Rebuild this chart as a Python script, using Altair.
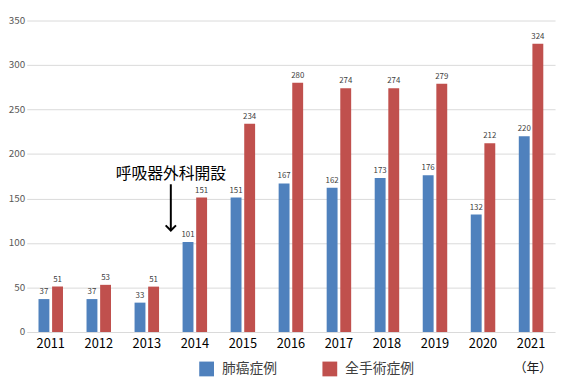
import altair as alt
import pandas as pd

years = ["2011", "2012", "2013", "2014", "2015", "2016", "2017", "2018", "2019", "2020", "2021"]
lung = [37, 37, 33, 101, 151, 167, 162, 173, 176, 132, 220]
total = [51, 53, 51, 151, 234, 280, 274, 274, 279, 212, 324]
series = ["肺癌症例", "全手術症例"]
colors = ["#4f81bd", "#c0504d"]
y_ticks = [0, 50, 100, 150, 200, 250, 300, 350]

ann_label = ["呼吸器外科開設"]
ann_text_y = [178]
arrow_top = [166]
arrow_tip = [114]

rows = []
for yr, a, b in zip(years, lung, total):
    rows.append({"year": yr, "series": series[0], "value": a})
    rows.append({"year": yr, "series": series[1], "value": b})
df = pd.DataFrame(rows)

W, H = 536, 316
FONT = "Noto Sans CJK JP"
arrow_x = W * 3 / 11

x = alt.X(
    "year:N", sort=years,
    scale=alt.Scale(paddingInner=0.49, paddingOuter=0.245),
    axis=alt.Axis(title="（年）", labelAngle=0, labelFontSize=13, labelColor="#000000",
                  labelPadding=6, ticks=False, domain=False,
                  titleX=513, titleY=36, titleFontSize=13, titleFontWeight="normal",
                  titleAlign="center", titleBaseline="middle", titleColor="#202020"),
)
xo = alt.XOffset("series:N", sort=series, scale=alt.Scale(paddingInner=0.2))
y = alt.Y(
    "value:Q", scale=alt.Scale(domain=[0, 350], nice=False),
    axis=alt.Axis(values=y_ticks, title=None, labelFontSize=10, labelColor="#595959",
                  labelPadding=2, ticks=False, domain=False, gridColor="#d9d9d9"),
)
color = alt.Color(
    "series:N",
    scale=alt.Scale(domain=series, range=colors),
    legend=alt.Legend(title=None, orient="none", legendX=175, legendY=346,
                      direction="horizontal", symbolType="square", symbolSize=225,
                      symbolStrokeWidth=0, labelFontSize=14, labelColor="#404040",
                      columnPadding=46, labelOffset=8, padding=0),
)

base = alt.Chart(df)
bars = base.mark_bar().encode(x=x, xOffset=xo, y=y, color=color)
labels = base.mark_text(fontSize=8, color="#404040", dy=-5, baseline="alphabetic").encode(
    x=x, xOffset=xo, y=y, text="value:Q"
)

ann_df = pd.DataFrame({"label": ann_label, "ty": ann_text_y, "top": arrow_top, "tip": arrow_tip})
ann_text = alt.Chart(ann_df).mark_text(fontSize=16, color="#000000", baseline="middle").encode(
    x=alt.value(arrow_x), y=alt.Y("ty:Q"), text="label:N"
)
ann_rule = alt.Chart(ann_df).mark_rule(color="#000000", strokeWidth=2).encode(
    x=alt.value(arrow_x), y=alt.Y("top:Q"), y2=alt.Y2("tip:Q")
)
ann_head = alt.Chart(ann_df).mark_point(
    shape="M-1,-1L0,0L1,-1", filled=False, stroke="#000000", strokeWidth=2, size=110, opacity=1
).encode(x=alt.value(arrow_x), y=alt.Y("tip:Q"))

chart = alt.layer(bars, labels, ann_rule, ann_head, ann_text).properties(
    width=W, height=H,
    autosize=alt.AutoSizeParams(type="none"),
    padding={"left": 19, "top": 10, "right": 4, "bottom": 47},
).configure(font=FONT).configure_view(stroke=None)

chart.save("out.html", embed_options={"renderer": "svg", "actions": False})
